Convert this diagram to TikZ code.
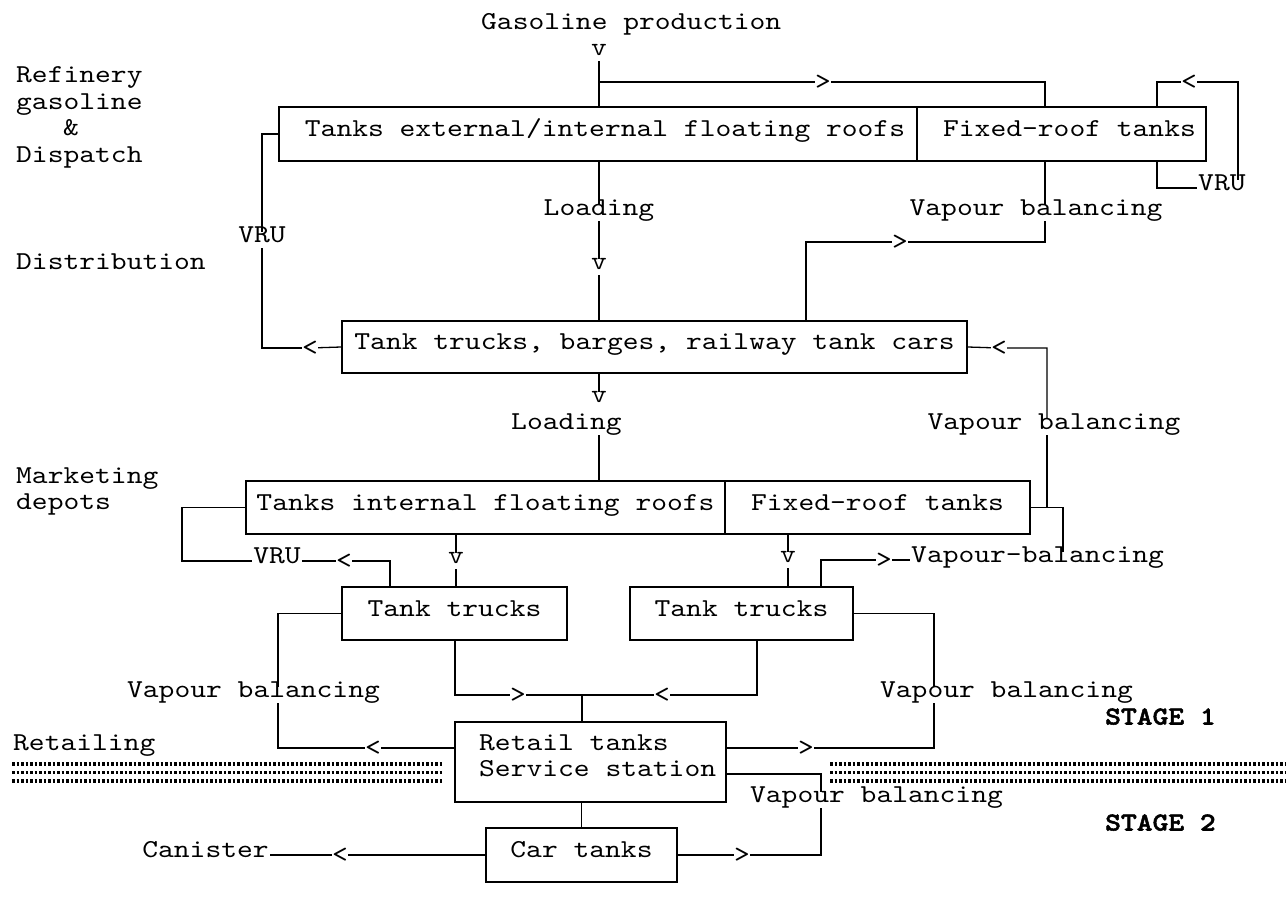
\documentclass[tikz,border=0pt]{standalone}
\usepackage{fontspec}
\setmainfont{lmmono10-regular.otf}[FakeStretch=1.166]
\newfontfamily\stagefont{lmmonolt10-bold.otf}[FakeStretch=1.166,FakeBold=2]
\newcommand\cfont{\fontsize{25.8pt}{26.7pt}\selectfont}
\begin{document}
\begin{tikzpicture}[x=1pt,y=-1pt,font=\cfont,
  conn/.style={line width=1.3pt},
  box/.style={draw,line width=1.8pt,inner sep=0pt,text height=.67em,text depth=.17em},
  lab/.style={inner xsep=1pt,inner ysep=4pt,text height=.67em,text depth=.17em},
  ar/.style={inner sep=0pt},
  dotband/.style={line width=3.8pt,dash pattern=on 2.5pt off 2pt}]
\useasboundingbox (0,0) rectangle (1286,902);
\fill[white] (0,0) rectangle (1286,902);

% ---- boxes
\node[box,minimum width=638pt,minimum height=54pt] (B1a) at (598,134) {\hspace*{14pt}Tanks external/internal floating roofs};
\node[box,minimum width=289pt,minimum height=54pt] (B1b) at (1061.5,134) {\hspace*{16pt}Fixed-roof tanks};
\node[box,minimum width=625pt,minimum height=52pt] (B2) at (654.5,347) {Tank trucks, barges, railway tank cars};
\node[box,minimum width=479pt,minimum height=53pt] (B3a) at (485.5,507.5) {Tanks internal floating roofs};
\node[box,minimum width=305pt,minimum height=53pt] (B3b) at (877.5,507.5) {Fixed-roof tanks};
\node[box,minimum width=225pt,minimum height=53pt] (B4L) at (454.5,613.5) {Tank trucks};
\node[box,minimum width=223pt,minimum height=53pt] (B4R) at (741.5,613.5) {Tank trucks};
\node[box,minimum width=271pt,minimum height=80pt] (B5) at (590.5,762) {};
\node[lab,anchor=west,inner xsep=0pt] (rt) at (479,748) {Retail tanks};
\node[lab,anchor=west,inner xsep=0pt] (ss) at (479,774) {Service station};
\node[box,minimum width=191pt,minimum height=54pt] (B6) at (581.5,855) {Car tanks};

% ---- left-hand stage labels
\node[lab,anchor=west] (refi) at (15,80) {Refinery};
\node[lab,anchor=west] (gaso) at (15,107) {gasoline};
\node[lab,anchor=west] (amp) at (62,133) {\&};
\node[lab,anchor=west] (disp) at (15,160) {Dispatch};
\node[lab,anchor=west] (distr) at (15,267) {Distribution};
\node[lab,anchor=west] (mark) at (15,481) {Marketing};
\node[lab,anchor=west] (depo) at (15,507) {depots};
\node[lab,anchor=west] (reta) at (12,748) {Retailing};
\node[lab,anchor=west,font=\cfont\stagefont] (st1) at (1104,722) {STAGE 1};
\node[lab,anchor=west,font=\cfont\stagefont] (st2) at (1104,828) {STAGE 2};

% ---- connector labels
\node[lab,anchor=west] (gp) at (480,27) {Gasoline production};
\node[lab] (v1) at (599,53) {v};
\node[lab] (ld1) at (599,213) {Loading};
\node[lab] (v2) at (599,267) {v};
\node[ar] (gt1) at (823,82) {>};
\node[ar] (lt1) at (1189,82) {<};
\node[lab,anchor=west] (vruR) at (1197,188) {VRU};
\node[lab] (vb1) at (1036,213) {Vapour balancing};
\node[ar] (gt2) at (900,242) {>};
\node[lab] (vruL) at (262,240) {VRU};
\node[ar] (lt2) at (310,348) {<};
\node[ar] (lt3) at (999,348) {<};
\node[lab] (vb2) at (1054,427) {Vapour balancing};
\node[lab] (v3) at (599,400) {v};
\node[lab] (ld2) at (566.5,427) {Loading};
\node[lab] (vruM) at (277,561) {VRU};
\node[ar] (lt4) at (344,561) {<};
\node[lab] (v4) at (456,561) {v};
\node[lab] (v5) at (788,560) {v};
\node[ar] (gt3) at (884,560) {>};
\node[lab,anchor=west] (vbd) at (910,560) {Vapour-balancing};
\node[lab] (vb3) at (253.5,695) {Vapour balancing};
\node[ar] (gt4) at (518,695) {>};
\node[ar] (lt5) at (662,695) {<};
\node[lab] (vb4) at (1006.5,695) {Vapour balancing};
\node[ar] (lt6) at (373,748) {<};
\node[ar] (gt5) at (806,748) {>};
\node[lab] (vb5) at (876.5,800) {Vapour balancing};
\node[ar] (gt6) at (742,855) {>};
\node[ar] (lt7) at (340,855) {<};
\node[lab] (can) at (205.5,855) {Canister};

% ---- junction coordinates
\coordinate (j1) at (599,82);
\coordinate (c1) at (1045,82);
\coordinate (c2) at (1157,82);
\coordinate (c3) at (1238,82);
\coordinate (c4) at (1045,242);
\coordinate (c5) at (806,242);
\coordinate (c6) at (1047,348);
\coordinate (c7) at (1047,507.5);
\coordinate (c8) at (1063,507.5);
\coordinate (c9) at (182,561);
\coordinate (c10) at (390,561);
\coordinate (c11) at (821,560);
\coordinate (c12) at (278,613.5);
\coordinate (c13) at (278,748);
\coordinate (c14) at (455,695);
\coordinate (j2) at (582,695);
\coordinate (c15) at (757,695);
\coordinate (c16) at (934,613.5);
\coordinate (c17) at (934,748);
\coordinate (c18) at (821,774);
\coordinate (c19) at (821,855);

% ---- connectors
\begin{scope}[conn]
\draw (v1) -- (v1 |- B1a.north);
\draw (j1) -- (gt1) -- (c1) -- (c1 |- B1b.north);
\draw (c2 |- B1b.north) -- (c2) -- (lt1) -- (c3) -- (c3 |- vruR.north);
\draw (c2 |- B1b.south) |- (vruR.west);
\draw (B1a.west) -| (vruL);
\draw (vruL) |- (lt2);
\draw (lt2) -- (B2.west);
\draw (B1a.south -| v1) -- (ld1) -- (v2) -- (v2 |- B2.north);
\draw (B1b.south -| c4) -- (vb1.north -| c4);
\draw (vb1.south -| c4) -- (c4) -- (gt2) -- (c5) -- (c5 |- B2.north);
\draw (B2.east) -- (lt3) -- (c6) -- (c6 |- vb2.north);
\draw (c6 |- vb2.south) -- (c7);
\draw (B3b.east) -- (c8) -- (c8 |- vbd.north);
\draw (B2.south -| v3) -- (v3);
\draw (ld2.south -| v3) -- (v3 |- B3a.north);
\draw (B3a.west) -| (c9) -- (vruM);
\draw (vruM) -- (lt4) -- (c10) -- (c10 |- B4L.north);
\draw (B3a.south -| v4) -- (v4) -- (v4 |- B4L.north);
\draw (B3b.south -| v5) -- (v5) -- (v5 |- B4R.north);
\draw (c11 |- B4R.north) -- (c11) -- (gt3) -- (vbd);
\draw (B4L.west) -- (c12) -- (c12 |- vb3.north);
\draw (c12 |- vb3.south) -- (c13) -- (lt6) -- (B5.west |- lt6);
\draw (B4L.south -| c14) -- (c14) -- (gt4) -- (j2) -- (j2 |- B5.north);
\draw (B4R.south -| c15) -- (c15) -- (lt5) -- (j2);
\draw (B4R.east) -- (c16) -- (c16 |- vb4.north);
\draw (c16 |- vb4.south) -- (c17) -- (gt5) -- (B5.east |- gt5);
\draw (B5.east |- c18) -- (c18) -- (c18 |- vb5.north);
\draw (c18 |- vb5.south) -- (c19) -- (gt6) -- (B6.east);
\draw (B5.south -| B6.north) -- (B6.north);
\draw (B6.west) -- (lt7) -- (can);
\end{scope}

% ---- stage separator bands
\foreach \yy in {764,772.5,781} {
  \draw[dotband] (12,\yy) -- (443,\yy);
  \draw[dotband] (830,\yy) -- (1286,\yy);
}
\end{tikzpicture}
\end{document}
